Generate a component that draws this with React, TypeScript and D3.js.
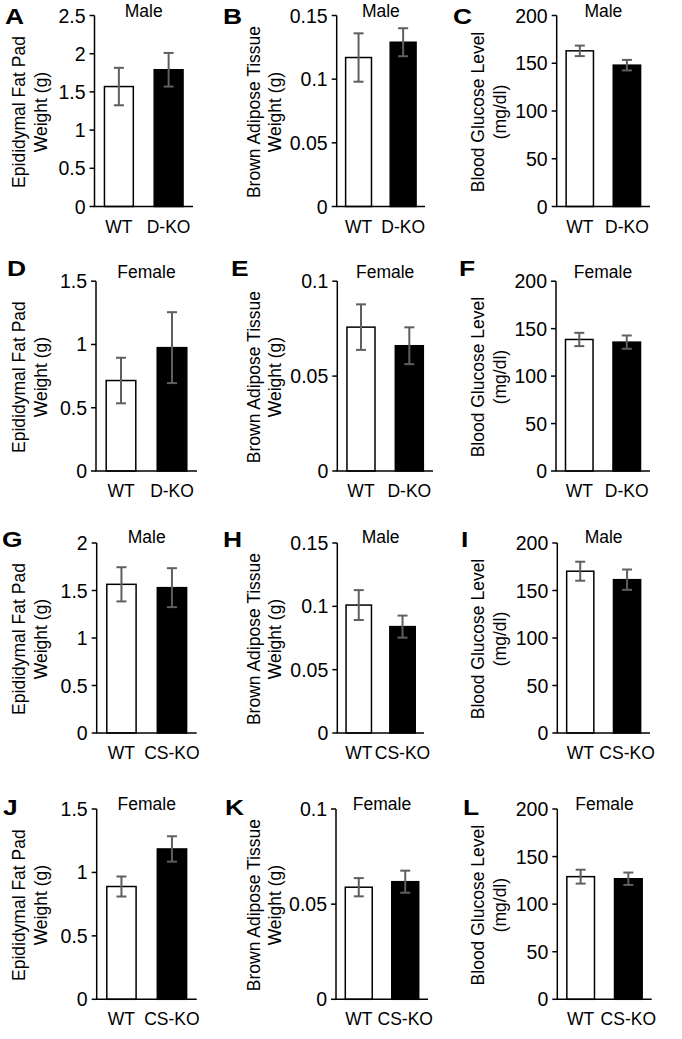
import React from "react";
import * as d3 from "d3";

// ---- categories ----
const groupsD = ["WT", "D-KO"];
const groupsCS = ["WT", "CS-KO"];

// ---- series values (mean, error) ----
const fatMaleD = [1.57, 1.79];
const fatMaleDErr = [0.245, 0.22];
const batMaleD = [0.117, 0.129];
const batMaleDErr = [0.019, 0.011];
const glucMaleD = [163, 148];
const glucMaleDErr = [5.5, 5.5];

const fatFemaleD = [0.715, 0.975];
const fatFemaleDErr = [0.18, 0.28];
const batFemaleD = [0.0758, 0.066];
const batFemaleDErr = [0.012, 0.0097];
const glucFemaleD = [138.6, 135.8];
const glucFemaleDErr = [7, 7];

const fatMaleCS = [1.565, 1.53];
const fatMaleCSErr = [0.18, 0.205];
const batMaleCS = [0.101, 0.084];
const batMaleCSErr = [0.0118, 0.0087];
const glucMaleCS = [170.3, 161.4];
const glucMaleCSErr = [10, 10.7];

const fatFemaleCS = [0.889, 1.185];
const fatFemaleCSErr = [0.079, 0.1];
const batFemaleCS = [0.0589, 0.0618];
const batFemaleCSErr = [0.0048, 0.0058];
const glucFemaleCS = [128.9, 126.7];
const glucFemaleCSErr = [7.3, 6.5];

// ---- tick values ----
const ticksFat25 = [0, 0.5, 1, 1.5, 2, 2.5];
const ticksFat20 = [0, 0.5, 1, 1.5, 2];
const ticksFat15 = [0, 0.5, 1, 1.5];
const ticksBat15 = [0, 0.05, 0.1, 0.15];
const ticksBat10 = [0, 0.05, 0.1];
const ticksGluc = [0, 50, 100, 150, 200];

// ---- text ----
const letters = ["A", "B", "C", "D", "E", "F", "G", "H", "I", "J", "K", "L"];
const rowTitles = ["Male", "Female", "Male", "Female"];
const yLabelFat = ["Epididymal Fat Pad", "Weight (g)"];
const yLabelBat = ["Brown Adipose Tissue", "Weight (g)"];
const yLabelGluc = ["Blood Glucose Level", "(mg/dl)"];

const panelData = [
  { groups: groupsD, values: fatMaleD, errs: fatMaleDErr, ticks: ticksFat25, label: yLabelFat },
  { groups: groupsD, values: batMaleD, errs: batMaleDErr, ticks: ticksBat15, label: yLabelBat },
  { groups: groupsD, values: glucMaleD, errs: glucMaleDErr, ticks: ticksGluc, label: yLabelGluc },
  { groups: groupsD, values: fatFemaleD, errs: fatFemaleDErr, ticks: ticksFat15, label: yLabelFat },
  { groups: groupsD, values: batFemaleD, errs: batFemaleDErr, ticks: ticksBat10, label: yLabelBat },
  { groups: groupsD, values: glucFemaleD, errs: glucFemaleDErr, ticks: ticksGluc, label: yLabelGluc },
  { groups: groupsCS, values: fatMaleCS, errs: fatMaleCSErr, ticks: ticksFat20, label: yLabelFat },
  { groups: groupsCS, values: batMaleCS, errs: batMaleCSErr, ticks: ticksBat15, label: yLabelBat },
  { groups: groupsCS, values: glucMaleCS, errs: glucMaleCSErr, ticks: ticksGluc, label: yLabelGluc },
  { groups: groupsCS, values: fatFemaleCS, errs: fatFemaleCSErr, ticks: ticksFat15, label: yLabelFat },
  { groups: groupsCS, values: batFemaleCS, errs: batFemaleCSErr, ticks: ticksBat10, label: yLabelBat },
  { groups: groupsCS, values: glucFemaleCS, errs: glucFemaleCSErr, ticks: ticksGluc, label: yLabelGluc },
];

// ---- layout ----
const W = 682;
const H = 1039;
const rowTop = [15.5, 281.2, 543, 809];
const rowBottom = [206.5, 471, 733, 999.3];
const titleOffset = [1, -3.5, 0, 1];
const plotX = [
  [94.5, 193], [336.7, 425], [556.7, 650],
  [96, 197], [337.3, 433], [556, 650],
  [96.7, 196.7], [337.3, 424], [557.3, 650],
  [96.7, 196.7], [336, 428], [557.3, 651.7],
];
const labelX = [
  [24.5, 46.5], [259.5, 281], [484, 506],
];
const letterPos = [
  [5, 24], [223, 24], [453, 24],
  [7, 276], [231, 276], [459, 276],
  [2, 547], [223, 547], [461, 547],
  [3, 815], [225, 815], [463, 815],
];

const FONT = "'Liberation Sans', Arial, Helvetica, sans-serif";
const ERR_COLOR = "#5f5f5f";

function Panel({ idx }: { idx: number }) {
  const d = panelData[idx];
  const row = Math.floor(idx / 3);
  const col = idx % 3;
  const [x0, x1] = plotX[idx];
  const top = rowTop[row];
  const bottom = rowBottom[row];
  const maxTick = d.ticks[d.ticks.length - 1];
  const y = d3.scaleLinear().domain([0, maxTick]).range([bottom, top]);
  const x = d3.scaleBand<string>().domain(d.groups).range([x0, x1]).paddingInner(0.42).paddingOuter(0.2);
  const bw = x.bandwidth();
  const yMid = (top + bottom) / 2 + 1;
  const [lx1, lx2] = labelX[col];
  const [ltx, lty] = letterPos[idx];
  return (
    <g>
      <text x={ltx} y={lty} fontFamily={FONT} fontWeight="bold" fontSize={22} transform={`translate(${ltx},0) scale(1.2,1) translate(${-ltx},0)`}>
        {letters[idx]}
      </text>
      <text x={(x0 + x1) / 2} y={top + titleOffset[row]} textAnchor="middle" fontFamily={FONT} fontSize={17.5}>
        {rowTitles[row]}
      </text>
      <text transform={`translate(${lx1},${yMid}) rotate(-90)`} textAnchor="middle" fontFamily={FONT} fontSize={17.5}>
        {d.label[0]}
      </text>
      <text transform={`translate(${lx2},${yMid}) rotate(-90)`} textAnchor="middle" fontFamily={FONT} fontSize={17.5}>
        {d.label[1]}
      </text>
      {d.ticks.map((t) => (
        <g key={t}>
          <line x1={x0 - 5} x2={x0} y1={y(t)} y2={y(t)} stroke="#000" strokeWidth={1.5} />
          <text x={x0 - 9} y={y(t)} dy="0.36em" textAnchor="end" fontFamily={FONT} fontSize={19.5}>
            {String(t)}
          </text>
        </g>
      ))}
      {d.groups.map((g, i) => {
        const v = d.values[i];
        const e = d.errs[i];
        const bx = x(g)!;
        const cx = bx + bw / 2;
        return (
          <g key={g}>
            <rect x={bx} y={y(v)} width={bw} height={y(0) - y(v)} fill={i === 0 ? "#fff" : "#000"} stroke="#000" strokeWidth={1.5} />
            <line x1={cx} x2={cx} y1={y(v + e)} y2={y(v - e)} stroke={ERR_COLOR} strokeWidth={2} />
            <line x1={cx - 5} x2={cx + 5} y1={y(v + e)} y2={y(v + e)} stroke={ERR_COLOR} strokeWidth={2} />
            <line x1={cx - 5} x2={cx + 5} y1={y(v - e)} y2={y(v - e)} stroke={ERR_COLOR} strokeWidth={2} />
            <text x={cx} y={bottom + 26} textAnchor="middle" fontFamily={FONT} fontSize={17.5}>
              {g}
            </text>
          </g>
        );
      })}
      <line x1={x0} x2={x0} y1={top} y2={bottom} stroke="#000" strokeWidth={1.5} />
      <line x1={x0 - 0.75} x2={x1} y1={bottom} y2={bottom} stroke="#000" strokeWidth={1.5} />
    </g>
  );
}

export default function App() {
  return (
    <svg width={W} height={H} style={{ position: "absolute", left: 0, top: 0, background: "#fff" }}>
      <rect x={0} y={0} width={W} height={H} fill="#fff" />
      {panelData.map((_, i) => (
        <Panel key={i} idx={i} />
      ))}
    </svg>
  );
}
